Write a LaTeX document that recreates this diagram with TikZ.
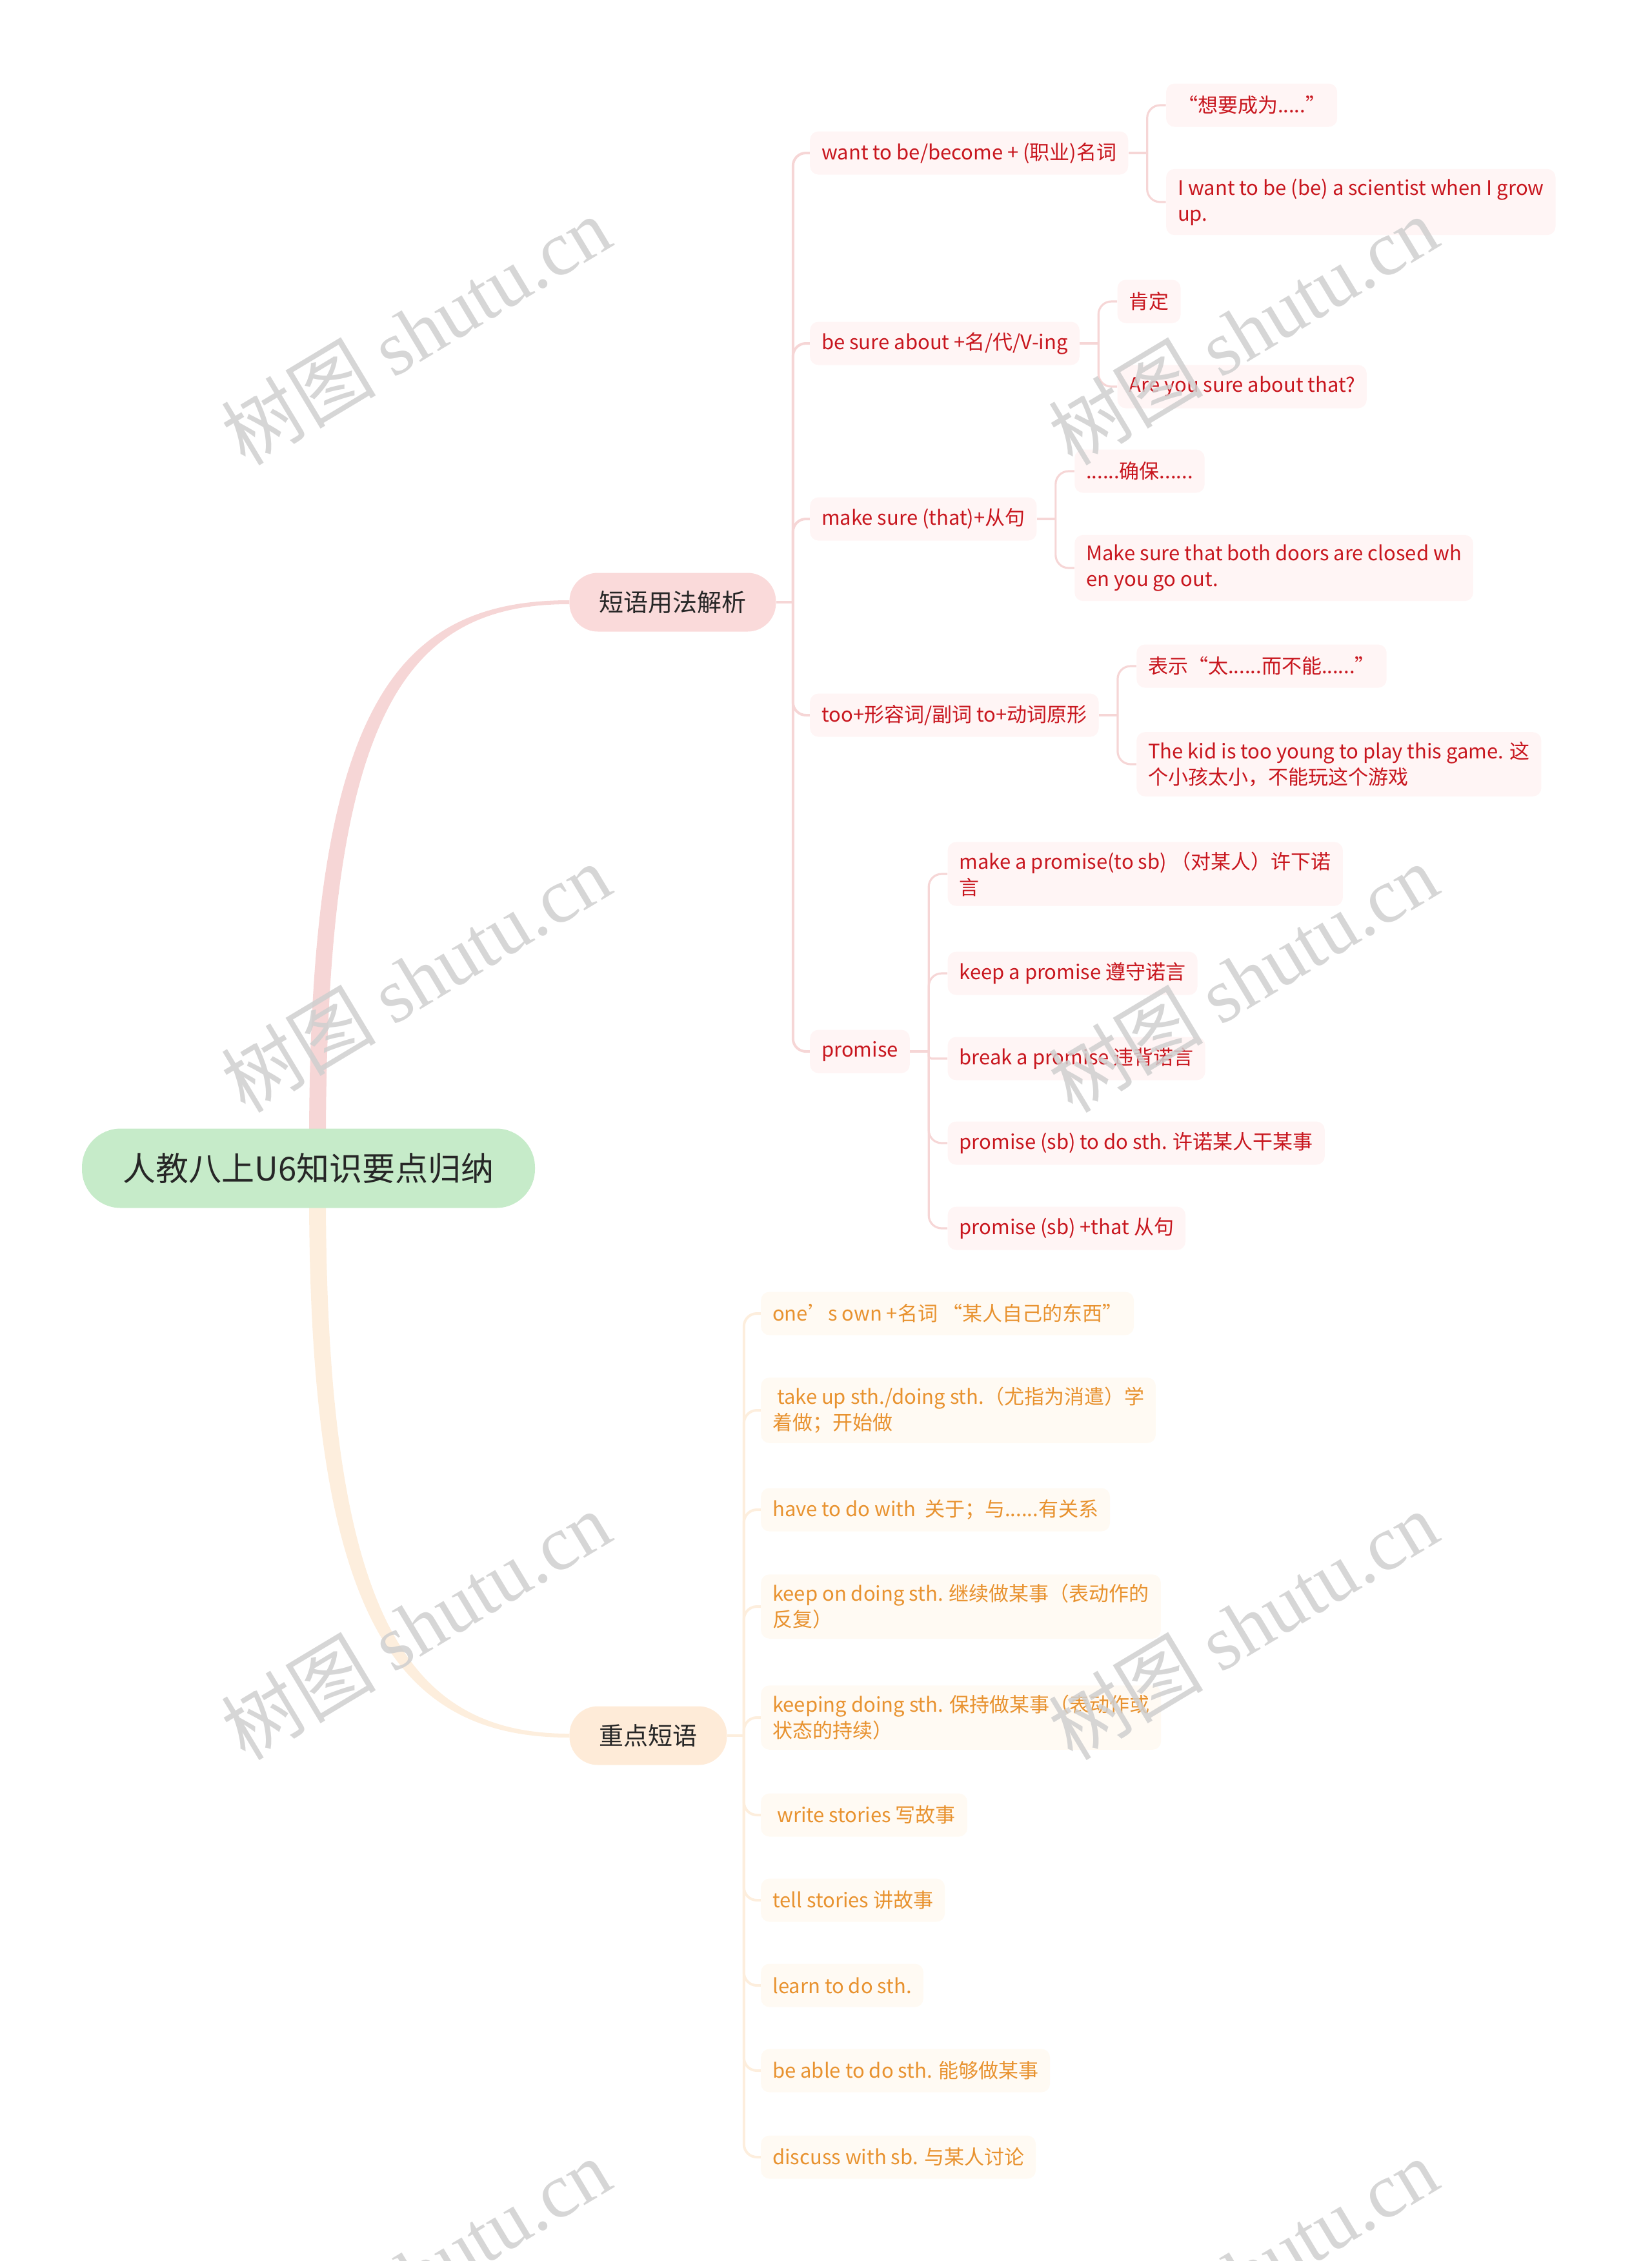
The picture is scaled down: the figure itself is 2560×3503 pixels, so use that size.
\documentclass[tikz,border=0pt]{standalone}
\usepackage{fontspec}
\setmainfont{Noto Sans CJK SC}
\newfontfamily\wmlatin{Liberation Serif}
\usetikzlibrary{positioning,backgrounds}
\definecolor{rootfill}{HTML}{C6EBC9}
\definecolor{roottext}{HTML}{262626}
\definecolor{pinkfill}{HTML}{FADADA}
\definecolor{pinkline}{HTML}{F6D6D6}
\definecolor{pinkleaf}{HTML}{FFF5F5}
\definecolor{pinktext}{HTML}{C8161E}
\definecolor{orangefill}{HTML}{FEEBD8}
\definecolor{orangeline}{HTML}{FDEEDD}
\definecolor{orangeleaf}{HTML}{FFFAF3}
\definecolor{orangetext}{HTML}{E8922F}
\definecolor{wmgray}{HTML}{CFCFCF}
\tikzset{
  rootnode/.style = {fill=rootfill, text=roottext, rounded corners=30pt,
    minimum width=351pt, minimum height=61.5pt, font=\fontsize{25.5}{30}\selectfont},
  topic/.style = {anchor=west, text=roottext, rounded corners=22pt, inner xsep=23pt,
    minimum height=45.5pt, font=\fontsize{19}{24}\selectfont},
  leaf/.style = {anchor=west, align=left, rounded corners=6.5pt, inner xsep=9pt,
    inner ysep=7.5pt, minimum height=33.5pt, font=\fontsize{15.5}{20}\selectfont},
  pleaf/.style = {leaf, fill=pinkleaf, text=pinktext},% leaf of the first branch
  oleaf/.style = {leaf, fill=orangeleaf, text=orangetext},% leaf of the second branch
  pwire/.style = {draw=pinkline, line width=2pt, rounded corners=10pt},
  owire/.style = {draw=orangeline, line width=2pt, rounded corners=10pt},
  wmark/.style = {rotate=31, text=wmgray, opacity=0.85, font=\fontsize{60}{60}\selectfont}
}

\begin{document}
\begin{tikzpicture}[x=0.5pt,y=-0.5pt]
\useasboundingbox (0,0) rectangle (2560,3503);

% root and main topics
\node [rootnode] (root) at (478,1810) {人教八上U6知识要点归纳};
\node [topic, fill=pinkfill] (t1) at (882,933) {短语用法解析};
\node [topic, fill=orangefill] (t2) at (882,2689) {重点短语};

% first branch
\node [pleaf] (a) at ([xshift=26pt]t1.east |- 0,237) {want to be/become + (职业)名词};
\node [pleaf] (b) at ([xshift=26pt]t1.east |- 0,532) {be sure about +名/代/V-ing};
\node [pleaf] (c) at ([xshift=26pt]t1.east |- 0,804) {make sure (that)+从句};
\node [pleaf] (d) at ([xshift=26pt]t1.east |- 0,1108) {too+形容词/副词 to+动词原形};
\node [pleaf] (e) at ([xshift=26pt]t1.east |- 0,1629) {promise};

\node [pleaf] (a1) at ([xshift=29pt]a.east |- 0,163) {“想要成为.....”};
\node [pleaf] (a2) at ([xshift=29pt]a.east |- 0,313) {I want to be (be) a scientist when I grow\\up.};
\node [pleaf] (b1) at ([xshift=29pt]b.east |- 0,467) {肯定};
\node [pleaf] (b2) at ([xshift=29pt]b.east |- 0,599) {Are you sure about that?};
\node [pleaf] (c1) at ([xshift=29pt]c.east |- 0,730) {......确保......};
\node [pleaf] (c2) at ([xshift=29pt]c.east |- 0,880) {Make sure that both doors are closed wh\\en you go out.};
\node [pleaf] (d1) at ([xshift=29pt]d.east |- 0,1032) {表示“太......而不能......”};
\node [pleaf] (d2) at ([xshift=29pt]d.east |- 0,1184) {The kid is too young to play this game. 这\\个小孩太小，不能玩这个游戏};
\node [pleaf] (e1) at ([xshift=29pt]e.east |- 0,1354) {make a promise(to sb) （对某人）许下诺\\言};
\node [pleaf] (e2) at ([xshift=29pt]e.east |- 0,1508) {keep a promise 遵守诺言};
\node [pleaf] (e3) at ([xshift=29pt]e.east |- 0,1640) {break a promise 违背诺言};
\node [pleaf] (e4) at ([xshift=29pt]e.east |- 0,1771) {promise (sb) to do sth. 许诺某人干某事};
\node [pleaf] (e5) at ([xshift=29pt]e.east |- 0,1903) {promise (sb) +that 从句};

% second branch
\node [oleaf] (f1) at ([xshift=26pt]t2.east |- 0,2035) {one’s own +名词 “某人自己的东西”};
\node [oleaf] (f2) at ([xshift=26pt]t2.east |- 0,2185) {\ take up sth./doing sth.（尤指为消遣）学\\着做；开始做};
\node [oleaf] (f3) at ([xshift=26pt]t2.east |- 0,2339) {have to do with \ 关于；与......有关系};
\node [oleaf] (f4) at ([xshift=26pt]t2.east |- 0,2489) {keep on doing sth. 继续做某事（表动作的\\反复）};
\node [oleaf] (f5) at ([xshift=26pt]t2.east |- 0,2661) {keeping doing sth. 保持做某事（表动作或\\状态的持续）};
\node [oleaf] (f6) at ([xshift=26pt]t2.east |- 0,2812) {\ write stories 写故事};
\node [oleaf] (f7) at ([xshift=26pt]t2.east |- 0,2944) {tell stories 讲故事};
\node [oleaf] (f8) at ([xshift=26pt]t2.east |- 0,3076) {learn to do sth.};
\node [oleaf] (f9) at ([xshift=26pt]t2.east |- 0,3208) {be able to do sth. 能够做某事};
\node [oleaf] (f10) at ([xshift=26pt]t2.east |- 0,3342) {discuss with sb. 与某人讨论};

\begin{scope}[on background layer]
% tapered links from the root
\fill [pinkline] (479,1770) .. controls (479,1100) and (610,930) .. ([yshift=1.5pt]t1.west)
  -- ([yshift=-1.5pt]t1.west) .. controls (630,936) and (505,1100) .. (505,1770) -- cycle;
\fill [orangeline] (479,1850) .. controls (479,2500) and (610,2692) .. ([yshift=-1.5pt]t2.west)
  -- ([yshift=1.5pt]t2.west) .. controls (630,2686) and (505,2500) .. (505,1850) -- cycle;

\draw [pwire] (t1.east) -- ++(26,0) coordinate (s1);
\foreach \c in {a,b,c,d,e}
  \draw [pwire] (s1) |- (\c.west);

\foreach \p in {a,b,c,d}{
  \draw [pwire, line width=1.6pt] (\p.east) -- ++(29,0) coordinate (s\p);
  \foreach \k in {1,2}
    \draw [pwire, line width=1.6pt] (s\p) |- (\p\k.west);
}
\draw [pwire, line width=1.6pt] (e.east) -- ++(29,0) coordinate (se);
\foreach \k in {1,2,4,5}
  \draw [pwire, line width=1.6pt] (se) |- (e\k.west);
\draw [pwire, line width=1.6pt, rounded corners=2pt] (se) |- (e3.west);

\draw [owire] (t2.east) -- ++(26,0) coordinate (s2);
\foreach \k in {1,...,10}
  \draw [owire] (s2) |- (f\k.west);
\end{scope}

% watermark
\foreach \x in {644,1926}
  \foreach \y in {512,1515,2518,3521}
    \node [wmark] at (\x,\y) {树图 {\wmlatin shutu.cn}};
\end{tikzpicture}
\end{document}
